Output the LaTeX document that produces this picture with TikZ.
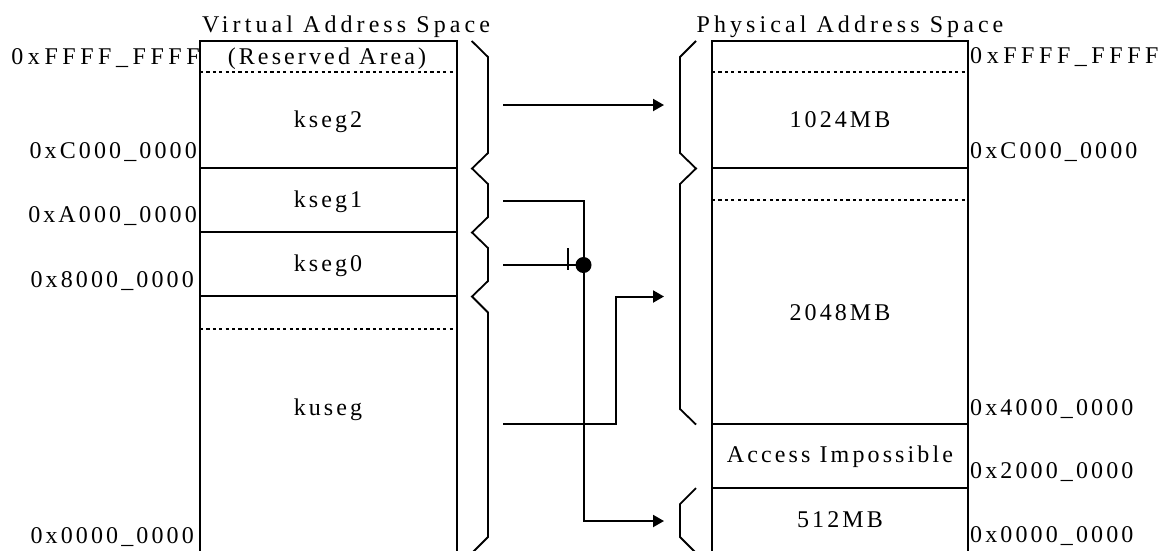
\documentclass[tikz,border=0pt]{standalone}
\usepackage{fontspec}
\setmainfont{Liberation Serif}[LetterSpace=13]
\usetikzlibrary{arrows.meta}

\begin{document}
\begin{tikzpicture}[x=1pt,y=-1pt,
  lbl/.style={font=\fontsize{24}{24}\selectfont, inner sep=0pt},
  wide/.style={font=\fontsize{24}{24}\selectfont\addfontfeature{LetterSpace=17}},
  wider/.style={font=\fontsize{24}{24}\selectfont\addfontfeature{LetterSpace=19}},
  edge/.style={line width=2pt},
  dots/.style={line width=2pt, dash pattern=on 3.2pt off 3.2pt},
  arr/.style={line width=2pt, -{Triangle[length=11pt,width=12pt]}},
  wire/.style={line width=2pt},
  brace/.style={line width=1.8pt, line join=miter}]
\useasboundingbox (0,0) rectangle (1161,550);
\clip (0,0) rectangle (1161,550);

% ---------- virtual address space ----------
\draw[edge] (200,560) -- (200,41) -- (457,41) -- (457,560);
\foreach \yy in {168,232,296} \draw[edge] (200,\yy) -- (457,\yy);
\foreach \yy in {72,329} \draw[dots] (200,\yy) -- (457,\yy);

\node[lbl, wide, anchor=base] (vtitle) at (346,32) {Virtual Address Space};
\node[lbl, anchor=base] (vres)   at (327,64) {(Reserved Area)};
\node[lbl, anchor=base] (kseg2)  at (328,127) {kseg2};
\node[lbl, anchor=base] (kseg1)  at (328,207) {kseg1};
\node[lbl, anchor=base] (kseg0)  at (328,271) {kseg0};
\node[lbl, anchor=base] (kuseg)  at (328,415) {kuseg};

\node[lbl, wider, anchor=base east] (vF) at (200,64)  {0xFFFF\_FFFF};
\node[lbl, anchor=base east] (vC) at (197,158) {0xC000\_0000};
\node[lbl, anchor=base east] (vA) at (197,222) {0xA000\_0000};
\node[lbl, anchor=base east] (v8) at (194,287) {0x8000\_0000};
\node[lbl, anchor=base east] (v0) at (194,543) {0x0000\_0000};

% brace right of the virtual space
\draw[brace] (471.7,41) -- (488,57) -- (488,153) -- (472,168.5) -- (488,184)
  -- (488,217) -- (472,232.5) -- (488,248) -- (488,281) -- (472,296.5)
  -- (488,312.5) -- (488,537) -- (472,553);

% ---------- physical address space ----------
\draw[edge] (712,560) -- (712,41) -- (968,41) -- (968,560);
\foreach \yy in {168,424,488} \draw[edge] (712,\yy) -- (968,\yy);
\foreach \yy in {72,200} \draw[dots] (712,\yy) -- (968,\yy);

\node[lbl, wide, anchor=base] (ptitle) at (850,32) {Physical Address Space};
\node[lbl, anchor=base] (p1024) at (840,127) {1024MB};
\node[lbl, anchor=base] (p2048) at (840,320) {2048MB};
\node[lbl, anchor=base] (pacc)  at (840,462) {Access Impossible};
\node[lbl, anchor=base] (p512)  at (840,527) {512MB};

\node[lbl, wider, anchor=base west] (pF) at (970,63)  {0xFFFF\_FFFF};
\node[lbl, anchor=base west] (pC) at (970,158) {0xC000\_0000};
\node[lbl, anchor=base west] (p4) at (970,415) {0x4000\_0000};
\node[lbl, anchor=base west] (p2) at (970,478) {0x2000\_0000};
\node[lbl, anchor=base west] (p0) at (970,542) {0x0000\_0000};

% braces left of the physical space
\draw[brace] (696,41) -- (680,57) -- (680,153) -- (696,168.5) -- (680,184)
  -- (680,409) -- (696,424.5);
\draw[brace] (696,488) -- (680,504) -- (680,537) -- (696,553);

% ---------- mapping connectors ----------
\coordinate (s2) at (503,105);
\coordinate (t2) at (664,105);
\coordinate (s1) at (503,201);
\coordinate (s0) at (503,265);
\coordinate (su) at (503,424);
\coordinate (tu) at (664,296.5);
\coordinate (t512) at (664,521);
\coordinate (bartop) at (567.5,248);
\coordinate (barbot) at (567.5,269.5);
\node[circle, fill, inner sep=0pt, minimum size=16pt] (junc) at (583.5,265) {};

\draw[arr] (s2) -- (t2);
\draw[arr] (s1) -| (junc.center) |- (t512);
\draw[wire] (s0) -- (junc.center);
\draw[wire] (bartop) -- (barbot);
\draw[arr] (su) -- (615.5,424) |- (tu);
\end{tikzpicture}
\end{document}
